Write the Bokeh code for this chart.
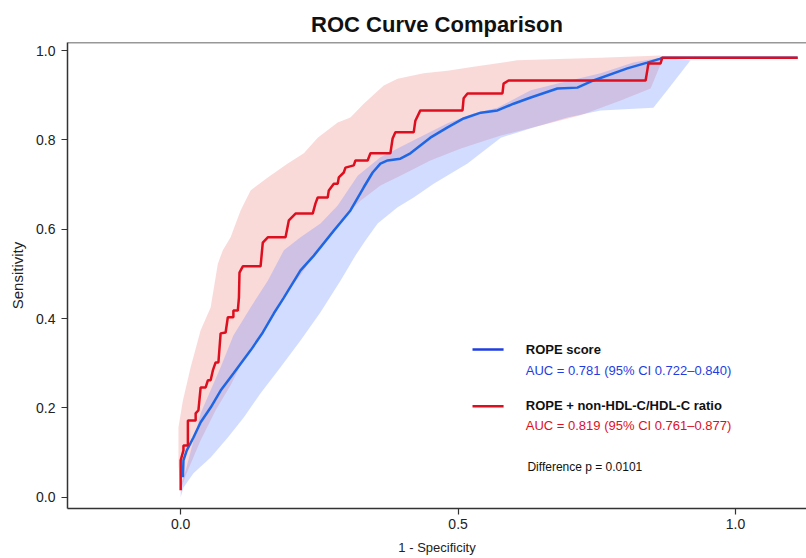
from bokeh.plotting import figure
from bokeh.models import Span, Label, FixedTicker, Range1d
from bokeh.embed import file_html
from bokeh.resources import INLINE

FONT = "Liberation Sans"

# ---- data ----
# ROPE + non-HDL-C/HDL-C ratio (step ROC curve)
red_x = [0, 0, 0.005, 0.005, 0.013, 0.013, 0.027, 0.027, 0.032, 0.036,
         0.045, 0.049, 0.054, 0.058, 0.063, 0.068, 0.072, 0.081, 0.085, 0.095,
         0.095, 0.103, 0.105, 0.106, 0.112, 0.144, 0.148, 0.157, 0.189, 0.195,
         0.207, 0.238, 0.243, 0.247, 0.265, 0.267, 0.276, 0.283, 0.285, 0.294,
         0.297, 0.312, 0.315, 0.337, 0.342, 0.378, 0.382, 0.387, 0.420, 0.423,
         0.432, 0.508, 0.510, 0.517, 0.580, 0.582, 0.591, 0.838, 0.841, 0.843,
         0.865, 0.868, 1.112]
red_y = [0.016, 0.083, 0.105, 0.116, 0.116, 0.172, 0.172, 0.188, 0.195, 0.246,
         0.246, 0.262, 0.262, 0.284, 0.302, 0.302, 0.367, 0.369, 0.403, 0.403,
         0.418, 0.418, 0.447, 0.503, 0.517, 0.517, 0.570, 0.582, 0.582, 0.620,
         0.635, 0.635, 0.658, 0.671, 0.671, 0.687, 0.702, 0.702, 0.716, 0.727,
         0.738, 0.743, 0.754, 0.754, 0.770, 0.770, 0.803, 0.817, 0.817, 0.843,
         0.866, 0.866, 0.893, 0.904, 0.904, 0.926, 0.933, 0.933, 0.955, 0.971,
         0.971, 0.984, 0.984]

# ROPE score ROC curve
blue_x = [0.004, 0.005, 0.011, 0.023, 0.036, 0.054, 0.072, 0.095, 0.126, 0.148,
          0.168, 0.186, 0.216, 0.240, 0.276, 0.306, 0.330, 0.346, 0.360, 0.373,
          0.396, 0.414, 0.450, 0.481, 0.510, 0.541, 0.571, 0.600, 0.631, 0.679,
          0.715, 0.744, 0.805, 0.841, 0.865, 0.868, 1.112]
blue_y = [0.045, 0.083, 0.105, 0.134, 0.168, 0.201, 0.239, 0.277, 0.329, 0.369,
          0.412, 0.447, 0.508, 0.541, 0.597, 0.642, 0.694, 0.727, 0.747, 0.754,
          0.758, 0.770, 0.805, 0.828, 0.848, 0.861, 0.866, 0.881, 0.895, 0.915,
          0.917, 0.933, 0.960, 0.973, 0.982, 0.984, 0.984]

# 95% CI bands
red_hi_x = [-0.004, 0.004, 0.018, 0.036, 0.054, 0.067, 0.076, 0.090, 0.108, 0.126,
            0.157, 0.193, 0.222, 0.247, 0.283, 0.306, 0.330, 0.366, 0.391, 0.438,
            0.481, 0.528, 0.607, 0.757, 0.865]
red_hi_y = [0.157, 0.217, 0.291, 0.374, 0.425, 0.523, 0.553, 0.582, 0.642, 0.687,
            0.716, 0.747, 0.770, 0.805, 0.839, 0.850, 0.881, 0.922, 0.937, 0.949,
            0.955, 0.964, 0.978, 0.984, 0.989]
red_lo_x = [-0.004, 0.000, 0.009, 0.036, 0.063, 0.090, 0.117, 0.148, 0.180, 0.216,
            0.252, 0.288, 0.324, 0.360, 0.396, 0.450, 0.505, 0.577, 0.649, 0.721,
            0.793, 0.847, 0.868]
red_lo_y = [0.072, 0.016, 0.049, 0.128, 0.195, 0.251, 0.318, 0.374, 0.441, 0.497,
            0.564, 0.620, 0.664, 0.698, 0.720, 0.754, 0.781, 0.810, 0.832, 0.855,
            0.888, 0.915, 0.978]

blue_hi_x = [0.000, 0.009, 0.036, 0.072, 0.095, 0.126, 0.157, 0.186, 0.216, 0.252,
             0.283, 0.319, 0.360, 0.420, 0.481, 0.528, 0.571, 0.631, 0.685, 0.757,
             0.816, 0.865]
blue_hi_y = [0.027, 0.060, 0.188, 0.291, 0.362, 0.425, 0.485, 0.553, 0.582, 0.613,
             0.653, 0.720, 0.761, 0.799, 0.837, 0.859, 0.872, 0.911, 0.928, 0.949,
             0.973, 0.984]
blue_lo_x = [0.000, 0.005, 0.023, 0.054, 0.085, 0.114, 0.144, 0.180, 0.216, 0.252,
             0.288, 0.315, 0.333, 0.355, 0.391, 0.420, 0.456, 0.517, 0.577, 0.636,
             0.697, 0.757, 0.852, 0.877, 0.919]
blue_lo_y = [0.000, 0.022, 0.054, 0.089, 0.134, 0.179, 0.233, 0.291, 0.351, 0.414,
             0.485, 0.541, 0.575, 0.613, 0.649, 0.671, 0.702, 0.747, 0.805, 0.828,
             0.850, 0.866, 0.872, 0.911, 0.978]

x_ticks = [0.0, 0.5, 1.0]
y_ticks = [0.0, 0.2, 0.4, 0.6, 0.8, 1.0]

title_text = "ROC Curve Comparison"
x_label = "1 - Specificity"
y_label = "Sensitivity"
s1_name = "ROPE score"
s1_auc = "AUC = 0.781 (95% CI 0.722\u20130.840)"
s2_name = "ROPE + non-HDL-C/HDL-C ratio"
s2_auc = "AUC = 0.819 (95% CI 0.761\u20130.877)"
diff_text = "Difference p = 0.0101"

BLUE = "#1f66e5"
BLUE_LEG = "#1f3de0"
RED = "#dd0f1e"

# ---- figure ----
p = figure(width=806, height=558, output_backend="svg", toolbar_location=None,
           x_range=Range1d(-0.204, 1.128), y_range=Range1d(-0.025, 1.018),
           min_border_left=67, min_border_right=0, min_border_top=42,
           min_border_bottom=50)
p.background_fill_color = "white"
p.border_fill_color = "white"
p.outline_line_color = None
p.grid.visible = False

p.title.text = title_text
p.title.align = "center"
p.title.text_font = FONT
p.title.text_font_size = "22px"
p.title.text_font_style = "bold"
p.title.text_color = "#111111"
p.title.standoff = 12

for ax in (p.xaxis[0], p.yaxis[0]):
    ax.axis_line_color = "#333333"
    ax.axis_line_width = 1.5
    ax.major_tick_line_color = "#333333"
    ax.major_tick_line_width = 1.2
    ax.major_tick_out = 6
    ax.major_tick_in = 0
    ax.minor_tick_line_color = None
    ax.major_label_text_font = FONT
    ax.major_label_text_font_size = "14px"
    ax.major_label_text_color = "#222222"
    ax.axis_label_text_font = FONT
    ax.axis_label_text_font_style = "normal"
    ax.axis_label_text_color = "#222222"

p.xaxis.axis_label_text_font_size = "13px"
p.yaxis.axis_label_text_font_size = "15px"
p.xaxis.ticker = FixedTicker(ticks=x_ticks)
p.yaxis.ticker = FixedTicker(ticks=y_ticks)
p.xaxis.major_label_overrides = {t: f"{t:.1f}" for t in x_ticks}
p.yaxis.major_label_overrides = {t: f"{t:.1f}" for t in y_ticks}
p.xaxis.axis_label = x_label
p.yaxis.axis_label = y_label
p.xaxis.major_label_standoff = 4
p.xaxis.axis_label_standoff = 8
p.yaxis.major_label_standoff = 6
p.yaxis.axis_label_standoff = 7

# top border line
p.add_layout(Span(location=1.018, dimension="width", line_color="#333333",
                  line_width=1.5))

# bands
p.patch(red_hi_x + red_lo_x[::-1], red_hi_y + red_lo_y[::-1],
        fill_color="#f08080", fill_alpha=0.3, line_color=None)
p.patch(blue_hi_x + blue_lo_x[::-1], blue_hi_y + blue_lo_y[::-1],
        fill_color="#6b8cff", fill_alpha=0.3, line_color=None)

# curves
p.line(blue_x, blue_y, line_color=BLUE, line_width=2.5)
p.line(red_x, red_y, line_color=RED, line_width=2.5)

# legend (custom)
lx0, lx1, tx = 0.526, 0.582, 0.622
p.segment(x0=[lx0], y0=[0.331], x1=[lx1], y1=[0.331], line_color=BLUE_LEG, line_width=2.5)
p.segment(x0=[lx0], y0=[0.204], x1=[lx1], y1=[0.204], line_color=RED, line_width=2.5)

def lab(txt, y, color, bold=False, size="13px", x=tx):
    p.add_layout(Label(x=x, y=y, text=txt, text_font=FONT, text_font_size=size,
                       text_font_style="bold" if bold else "normal",
                       text_color=color, text_baseline="middle", text_align="left"))

lab(s1_name, 0.331, "#111111", bold=True)
lab(s1_auc, 0.284, BLUE_LEG, size="13px")
lab(s2_name, 0.206, "#111111", bold=True)
lab(s2_auc, 0.161, RED, size="13px")
lab(diff_text, 0.067, "#111111", size="12px", x=0.625)

open("out.html", "w").write(file_html(p, INLINE))
